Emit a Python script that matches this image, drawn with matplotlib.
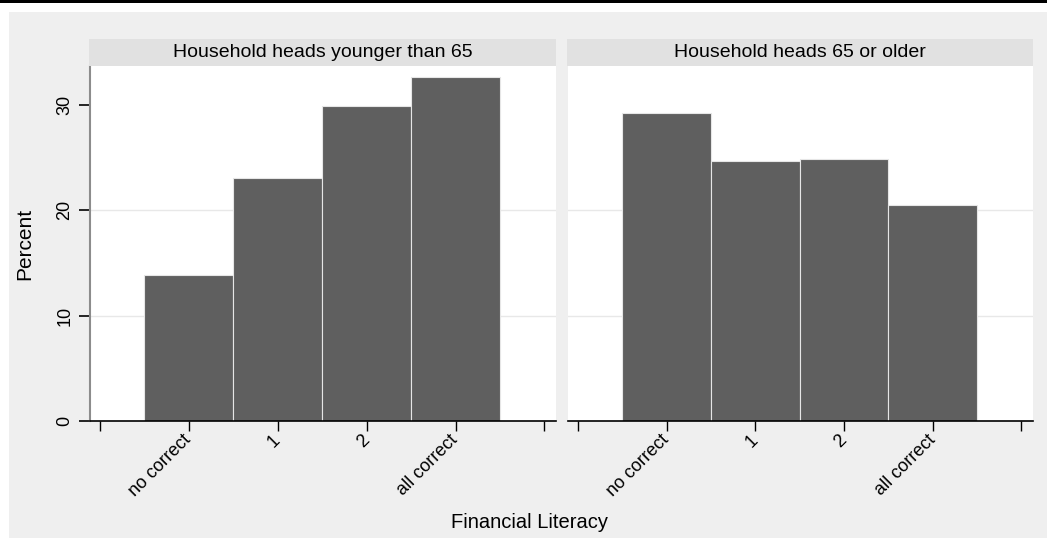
import matplotlib.pyplot as plt
from matplotlib.patches import Rectangle

plt.rcParams['font.family'] = ['Liberation Sans', 'DejaVu Sans']

categories = ['no correct', '1', '2', 'all correct']
younger = [13.9, 23.1, 29.9, 32.7]
older = [29.2, 24.7, 24.9, 20.5]
panel_titles = ['Household heads younger than 65', 'Household heads 65 or older']
y_ticks = [0, 10, 20, 30]
grid_at = [10, 20]

W, H = 1047, 538
fig = plt.figure(figsize=(W / 100, H / 100), dpi=100, facecolor='white')

# stata-ish background and top rule
fig.patches.append(Rectangle((9 / W, 0), 1, 1 - 12 / H, transform=fig.transFigure,
                             facecolor='#efefef', edgecolor='none', zorder=-10))
fig.patches.append(Rectangle((0, 1 - 3 / H), 1, 3 / H, transform=fig.transFigure,
                             facecolor='black', edgecolor='none', zorder=-10))

bottom = 1 - 421 / H
height = 355 / H
lefts = [90 / W, 568 / W]
widths = [466 / W, 465 / W]
xpos = list(range(len(categories)))

for i, (vals, title) in enumerate(zip([younger, older], panel_titles)):
    ax = fig.add_axes([lefts[i], bottom, widths[i], height])
    ax.set_facecolor('white')
    for g in grid_at:
        ax.axhline(g, color='#e8e8e8', lw=1, zorder=0)
    ax.bar(xpos, vals, width=1, color='#5f5f5f', edgecolor='#e6e6e6', lw=0.8, zorder=2)
    ax.set_xlim(-1.11, 4.13)
    ax.set_ylim(0, 33.7)
    ax.set_xticks([-1] + xpos + [4])
    ax.set_xticklabels([''] + categories + [''], rotation=45, ha='right', va='center',
                       rotation_mode='anchor', fontsize=13)
    ax.tick_params(axis='x', length=7, width=1, pad=5, color='black')
    for s in ['top', 'right']:
        ax.spines[s].set_visible(False)
    ax.spines['bottom'].set_color('black')
    ax.spines['bottom'].set_linewidth(1.2)
    if i == 0:
        ax.set_yticks(y_ticks)
        ax.set_yticklabels([str(t) for t in y_ticks], rotation=90, va='center', fontsize=13)
        ax.tick_params(axis='y', length=8, width=1.2, pad=4, color='black')
        ax.spines['left'].set_color('#8c8c8c')
        ax.spines['left'].set_linewidth(1.5)
        ax.set_ylabel('Percent', fontsize=15, labelpad=16)
    else:
        ax.set_yticks([])
        ax.spines['left'].set_visible(False)

    sax = fig.add_axes([lefts[i] - 1 / W, 1 - 66 / H, widths[i] + 1 / W, 27 / H])
    sax.set_facecolor('#e1e1e1')
    sax.set_xticks([])
    sax.set_yticks([])
    for s in sax.spines.values():
        s.set_visible(False)
    sax.text(0.5, 0.5, title, ha='center', va='center', fontsize=14, transform=sax.transAxes)

fig.text(529.5 / W, 1 - 523 / H, 'Financial Literacy', ha='center', va='center', fontsize=14.5)

fig.savefig('out.png', dpi=100, facecolor=fig.get_facecolor())
